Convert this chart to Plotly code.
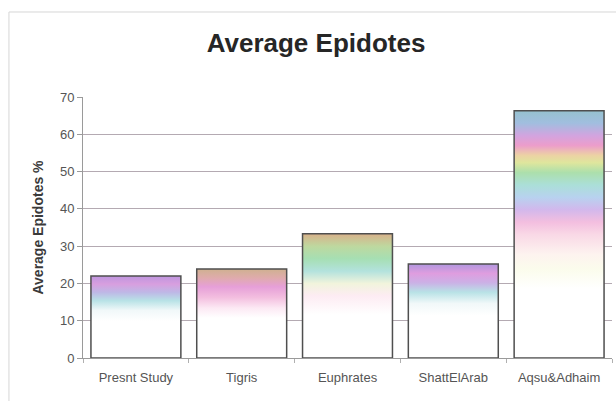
import plotly.graph_objects as go

# Average epidote content per study area (%)
categories = ["Presnt Study", "Tigris", "Euphrates", "ShattElArab", "Aqsu&Adhaim"]
values = [22.0, 23.9, 33.3, 25.2, 66.3]

y_ticks = [0, 10, 20, 30, 40, 50, 60, 70]

# vertical colour ramps for each column (0 = base, 1 = top)
ramps = [
    [[0, "#ffffff"], [0.45, "#ffffff"], [0.58, "#eef6f8"], [0.7, "#a8dce0"],
     [0.8, "#b0a8e0"], [0.9, "#cf8ad8"], [1, "#b07ed8"]],
    [[0, "#ffffff"], [0.45, "#ffffff"], [0.56, "#fbe4f2"], [0.68, "#f0b0d8"],
     [0.8, "#e08ad0"], [0.9, "#d8989a"], [1, "#c4a078"]],
    [[0, "#ffffff"], [0.35, "#ffffff"], [0.5, "#fde8f0"], [0.6, "#eef2d4"],
     [0.7, "#a2dcd6"], [0.8, "#92d8a2"], [0.9, "#b0d08a"], [1, "#d0a070"]],
    [[0, "#ffffff"], [0.45, "#ffffff"], [0.58, "#eef6f8"], [0.7, "#a8dce0"],
     [0.8, "#c0a0e0"], [0.9, "#d888d8"], [1, "#a080d8"]],
    [[0, "#ffffff"], [0.28, "#ffffff"], [0.36, "#fafbe8"], [0.42, "#fcf0ec"],
     [0.5, "#f8d0e0"], [0.55, "#f0b0d8"], [0.6, "#c8a8e8"], [0.65, "#a8c8ec"],
     [0.7, "#98d8d0"], [0.75, "#9ad89a"], [0.79, "#d8e088"], [0.82, "#e8c890"],
     [0.86, "#e888c0"], [0.9, "#c890d8"], [0.95, "#8cb0d8"], [1, "#7fb4c4"]],
]


def soften(hex_color, amount=0.18):
    """Blend a hex colour toward white to get a pastel tone."""
    h = hex_color.lstrip("#")
    r, g, b = (int(h[i:i + 2], 16) for i in (0, 2, 4))
    r, g, b = (round(c + (255 - c) * amount) for c in (r, g, b))
    return f"rgb({r},{g},{b})"


bar_width = 0.85
positions = list(range(len(categories)))

fig = go.Figure()

# gradient fill of each column
for pos, val, ramp in zip(positions, values, ramps):
    half = bar_width / 2
    fig.add_trace(go.Scatter(
        x=[pos - half, pos + half, pos + half, pos - half, pos - half],
        y=[0, 0, val, val, 0],
        mode="lines",
        line=dict(width=0),
        fill="toself",
        fillgradient=dict(type="vertical",
                          colorscale=[[p, soften(c)] for p, c in ramp]),
        hoverinfo="skip",
        showlegend=False,
    ))

# column outlines, drawn on an overlaid axis pair so they sit above the fills
fig.add_trace(go.Bar(
    x=positions,
    y=values,
    width=bar_width,
    marker=dict(color="rgba(0,0,0,0)", line=dict(color="#4f4f4f", width=1.5)),
    xaxis="x2",
    yaxis="y2",
    showlegend=False,
))

axis_font = dict(family="Liberation Sans, Arial, sans-serif", size=13, color="#555555")

fig.update_layout(
    width=616,
    height=401,
    margin=dict(l=83, r=4, t=97, b=43),
    paper_bgcolor="white",
    plot_bgcolor="white",
    title=dict(
        text="<b>Average Epidotes</b>",
        font=dict(family="Liberation Sans, Arial, sans-serif", size=26, color="#262626"),
        x=0.513, xanchor="center",
        y=0.893, yanchor="middle",
    ),
    xaxis=dict(
        range=[-0.5, len(categories) - 0.5],
        tickvals=positions,
        ticktext=categories,
        ticks="",
        ticklabelstandoff=7,
        tickfont=axis_font,
        showgrid=False,
        zeroline=False,
        showline=True,
        linecolor="#9a9a9a",
        linewidth=1,
        minor=dict(tick0=0.5, dtick=1, ticks="outside", ticklen=4, tickcolor="#b0b0b0", showgrid=False),
    ),
    yaxis=dict(
        range=[0, 70],
        tickvals=y_ticks,
        ticks="outside",
        ticklen=5,
        tickcolor="#9a9a9a",
        tickfont=axis_font,
        showgrid=True,
        gridcolor="#b4aab2",
        gridwidth=1,
        zeroline=False,
        showline=True,
        linecolor="#9a9a9a",
        linewidth=1,
        title=dict(
            text="<b>Average Epidotes %</b>",
            font=dict(family="Liberation Sans, Arial, sans-serif", size=14, color="#3a3a3a"),
            standoff=13,
        ),
    ),
    xaxis2=dict(overlaying="x", matches="x", visible=False),
    yaxis2=dict(overlaying="y", matches="y", visible=False),
    shapes=[
        # light frame around the chart area
        dict(type="rect", xref="paper", yref="paper",
             x0=-0.14, x1=1.2, y0=-0.3, y1=1.3257,
             line=dict(color="#d6d6d6", width=1), fillcolor="rgba(0,0,0,0)", layer="below"),
    ],
)

fig.write_html("out.html")
